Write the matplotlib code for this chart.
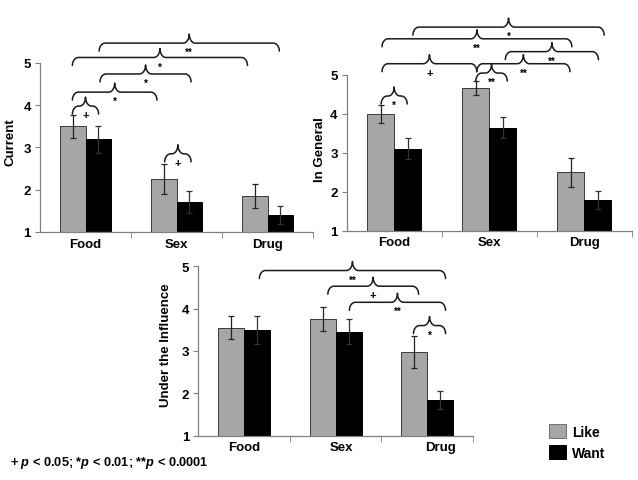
import matplotlib
matplotlib.use("Agg")
import matplotlib.pyplot as plt
from matplotlib.patches import Patch
import numpy as np

plt.rcParams['font.family'] = ['Liberation Sans', 'DejaVu Sans']
plt.rcParams['font.weight'] = 'bold'
plt.rcParams['mathtext.fontset'] = 'custom'
plt.rcParams['mathtext.it'] = 'Liberation Sans:italic:bold'
plt.rcParams['mathtext.rm'] = 'Liberation Sans:bold'

# data
categories = ['Food', 'Sex', 'Drug']

current_like = [3.50, 2.25, 1.85]
current_like_err = [0.28, 0.35, 0.28]
current_want = [3.19, 1.70, 1.40]
current_want_err = [0.33, 0.26, 0.22]

general_like = [4.00, 4.66, 2.50]
general_like_err = [0.23, 0.18, 0.37]
general_want = [3.10, 3.65, 1.80]
general_want_err = [0.27, 0.26, 0.23]

influence_like = [3.55, 3.75, 2.98]
influence_like_err = [0.27, 0.28, 0.37]
influence_want = [3.50, 3.46, 1.85]
influence_want_err = [0.33, 0.30, 0.21]

# significance braces: (from x, to x, height, mark)
current_braces = [(-0.144, 0.144, 3.98, '+'), (-0.144, 0.785, 4.31, '*'),
                  (0.16, 1.16, 4.74, '*'), (-0.144, 1.78, 5.13, '*'),
                  (0.15, 2.13, 5.47, '**'), (0.87, 1.16, 2.85, '+')]
general_braces = [(-0.137, 0.137, 4.46, '*'), (-0.128, 0.87, 5.29, '+'),
                  (0.87, 1.85, 5.29, '**'), (0.86, 1.19, 5.05, '**'),
                  (1.17, 2.15, 5.60, '**'), (-0.128, 1.87, 5.93, '**'),
                  (0.197, 2.21, 6.23, '*')]
influence_braces = [(0.167, 2.20, 4.90, '**'), (0.915, 1.905, 4.53, '+'),
                    (1.15, 2.20, 4.15, '**'), (1.85, 2.20, 3.60, '*')]

LIKE = '#a6a6a6'
WANT = '#000000'
W = 0.285


def draw_brace(ax, x0, x1, y, mark, r=6, drop=8, tip=9, tw=6):
    (X0, Y), (X1, _) = ax.transData.transform([(x0, y), (x1, y)])
    Xm = (X0 + X1) / 2
    t = np.linspace(0, np.pi / 2, 12)
    left = np.c_[X0 + r * (1 - np.cos(t)), Y - drop + drop * np.sin(t)]
    mid_l = np.c_[Xm - tw + tw * np.sin(t), Y + tip * (1 - np.cos(t))]
    mid_r = np.c_[2 * Xm - mid_l[::-1, 0], mid_l[::-1, 1]]
    right = np.c_[2 * Xm - left[::-1, 0], left[::-1, 1]]
    pts = np.vstack([left, mid_l, mid_r, right])
    d = ax.transData.inverted().transform(pts)
    ax.plot(d[:, 0], d[:, 1], color='#1a1a1a', lw=1.1, clip_on=False,
            solid_capstyle='round')
    ax.annotate(mark, xy=((x0 + x1) / 2, y), xytext=(0, -9),
                textcoords='offset pixels', ha='center', va='center',
                fontsize=8 if mark == '+' else 7, fontweight='bold',
                annotation_clip=False)


def panel(rect, like, like_err, want, want_err, ylabel, lab_xy, braces,
          tick_pos=(0, 1, 2)):
    ax = fig.add_axes(rect)
    x = np.arange(len(categories))
    ax.bar(x - W / 2, like, W, color=LIKE, edgecolor='#3a3a3a', linewidth=0.7)
    ax.bar(x + W / 2, want, W, color=WANT, edgecolor='#000000', linewidth=0.7)
    ax.errorbar(x - W / 2, like, yerr=like_err, fmt='none', ecolor='#222222',
                elinewidth=0.9, capsize=2.5, capthick=0.9)
    ax.errorbar(x + W / 2, want, yerr=want_err, fmt='none', ecolor='#333333',
                elinewidth=0.9, capsize=2.5, capthick=0.9)
    ax.set_xlim(-0.5, 2.5)
    ax.set_ylim(1, 5)
    ax.set_yticks([1, 2, 3, 4, 5])
    ax.set_xticks(tick_pos)
    ax.set_xticklabels(categories)
    ax.set_xticks([0.5, 1.5, 2.5], minor=True)
    ax.tick_params(axis='x', which='major', length=0, pad=4, labelsize=9.5)
    ax.tick_params(axis='x', which='minor', length=4, color='#808080',
                   direction='out')
    ax.tick_params(axis='y', length=3.5, color='#808080', pad=3,
                   labelsize=9.5)
    for s in ['top', 'right']:
        ax.spines[s].set_visible(False)
    for s in ['left', 'bottom']:
        ax.spines[s].set_color('#808080')
        ax.spines[s].set_linewidth(0.9)
    ax.set_ylabel(ylabel, fontsize=9.5, fontweight='bold')
    ax.yaxis.set_label_coords(*lab_xy)
    for b in braces:
        draw_brace(ax, *b)
    return ax


fig = plt.figure(figsize=(6.38, 4.81), dpi=100)

panel([0.0627, 0.5156, 0.4279, 0.3514], current_like, current_like_err,
      current_want, current_want_err, 'Current', (-0.085, 0.54),
      current_braces)
panel([0.5434, 0.5183, 0.4467, 0.3237], general_like, general_like_err,
      general_want, general_want_err, 'In General', (-0.072, 0.53),
      general_braces)
panel([0.3108, 0.0921, 0.4306, 0.3522], influence_like, influence_like_err,
      influence_want, influence_want_err, 'Under the Influence',
      (-0.095, 0.54), influence_braces, tick_pos=(0, 1.06, 2.14))

fig.legend(handles=[Patch(facecolor=LIKE, edgecolor='#707070', lw=0.7),
                    Patch(facecolor=WANT, edgecolor='#000000', lw=0.7)],
           labels=['Like', 'Want'], loc='upper left',
           bbox_to_anchor=(549 / 638, 1 - 425 / 481), frameon=False,
           borderpad=0, borderaxespad=0,
           handlelength=1.2, handleheight=1.2, handletextpad=0.45,
           labelspacing=0.45, prop={'size': 10, 'weight': 'bold'})

fig.text(10 / 638, 1 - 463 / 481,
         r'+ $p$ < 0.05; *$p$ < 0.01; **$p$ < 0.0001',
         fontsize=9.2, fontweight='bold', va='center', ha='left')

fig.savefig('out.png', dpi=100)
